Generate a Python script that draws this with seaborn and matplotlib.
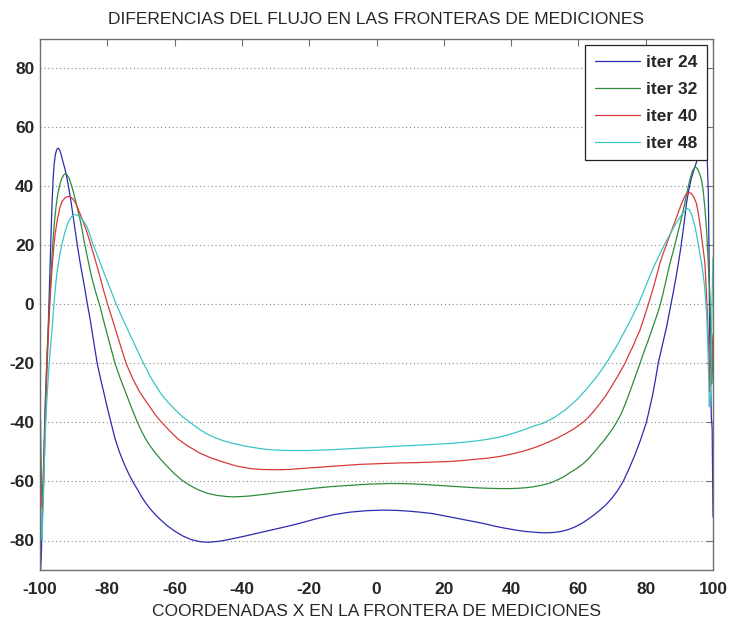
import numpy as np
import pandas as pd
import matplotlib
matplotlib.use("Agg")
import matplotlib.pyplot as plt
import seaborn as sns

# Flow difference along the measurement boundary, for several iterations
x_24 = [-100, -99.6, -99.2, -98.8, -98.4, -98.0, -97.6, -97.3, -97.0, -96.7, -96.4,
        -96.1, -95.8, -95.4, -95.0, -94.6, -94.2, -93.7, -93.2, -92.6, -92.1, -91.5,
        -90.8, -90.2, -89.6, -88.9, -88.2, -87.4, -86.6, -85.9, -85.1, -84.4, -83.7,
        -83.0, -82.0, -81.0, -80.0, -78.9, -77.7, -76.4, -75.0, -73.6, -72.3, -71.0,
        -69.8, -68.5, -67.3, -66.0, -64.8, -62.4, -60.0, -57.5, -55.0, -52.5, -50.0,
        -47.0, -44.5, -42.0, -39.5, -36.8, -34.0, -31.8, -28.0, -25.0, -21.0, -17.8,
        -13.0, -8.0, -3.0, 2.0, 6.0, 9.0, 13.0, 16.8, 20.0, 24.0, 28.0, 31.7, 35.0,
        38.0, 41.6, 44.0, 46.0, 48.0, 50.0, 52.5, 55.0, 57.0, 59.0, 61.0, 63.0, 65.0,
        66.4, 68.2, 70.0, 71.7, 73.3, 75.0, 76.8, 78.5, 80.2, 81.1, 82.0, 82.9, 83.7,
        85.0, 86.2, 87.1, 88.0, 88.9, 89.7, 90.4, 91.0, 91.6, 92.1, 92.8, 93.5, 94.3,
        95.1, 95.7, 96.3, 96.9, 97.5, 98.0, 98.3, 98.6, 98.8, 99.0, 99.25, 99.5,
        99.75, 100]
y_24 = [-95, -85, -65, -48, -32, -20, -10, 2, 14, 25, 35,
        42.5, 47.5, 51, 52.6, 53, 52.5, 50.8, 48.5, 46, 43.5, 39.8,
        35, 30.3, 25.5, 20, 15, 10, 4.8, 0, -5, -10, -15,
        -20, -25.2, -30, -35, -40, -45.5, -50, -54, -57.5, -60.3, -62.8,
        -65.2, -67.4, -69.2, -70.9, -72.3, -74.8, -76.8, -78.5, -79.7, -80.4, -80.6,
        -80.3, -79.8, -79.2, -78.6, -77.9, -77.2, -76.6, -75.6, -74.8, -73.6, -72.6,
        -71.3, -70.4, -69.9, -69.7, -69.8, -70.0, -70.4, -70.9, -71.6, -72.5, -73.4, -74.2, -75.1,
        -75.8, -76.5, -76.9, -77.1, -77.3, -77.4, -77.3, -76.9, -76.3, -75.4, -74.2, -72.7, -71.0,
        -69.7, -67.9, -65.6, -63.0, -60, -55.8, -51, -45.8, -40, -35.5, -31, -25.5, -20,
        -13.6, -7.6, -2.3, 3, 8.5, 13.9, 19, 24, 29.3, 34.2, 38.8, 42.5, 45.6,
        48.3, 52, 55.5, 57, 56, 52, 49, 38, 20, -8.7, -25, -38,
        -42, -72]

x_32 = [-100, -99.8, -99.6, -99.3, -99.0, -98.7, -98.4, -98.1, -97.8, -97.5, -97.2,
        -96.9, -96.5, -96.1, -95.7, -95.2, -94.7, -94.1, -93.5, -92.9, -92.5, -92.0,
        -91.4, -90.7, -90.0, -89.3, -88.6, -88.1, -87.5, -86.9, -86.1, -85.3, -84.5,
        -83.4, -82.2, -81.1, -80.0, -78.9, -77.7, -76.1, -74.5, -72.8, -71.1, -69.8,
        -68.5, -67.3, -65.8, -64.2, -62.5, -60.3, -57.9, -55.5, -53.0, -50.5, -47.5,
        -44.5, -42.6, -40.0, -37.6, -33.0, -27.7, -22.5, -17.8, -13.0, -7.9, -4.0,
        0.0, 3.5, 7.0, 10.5, 14.0, 18.0, 21.8, 25.5, 29.0, 33.0, 36.7, 39.5, 42.0,
        44.5, 46.6, 48.5, 50.0, 51.9, 53.5, 55.5, 57.5, 59.5, 61.5, 63.0, 64.0, 65.2,
        66.4, 67.7, 69.0, 70.2, 71.3, 72.6, 73.8, 75.0, 76.1, 77.2, 78.3, 79.5, 80.8,
        82.0, 83.2, 84.2, 85.0, 86.0, 87.2, 88.4, 89.5, 90.4, 91.2, 92.1, 93.1, 93.9,
        94.7, 95.4, 96.0, 96.6, 97.1, 97.6, 98.1, 98.6, 99.1, 99.35, 99.6, 99.8, 100]
y_32 = [-22, -45, -60, -68, -60, -47, -35, -24, -14, -7, 0,
        6.5, 15, 22.3, 28, 33.5, 37.5, 40.8, 42.8, 44, 44.4, 44,
        42.9, 40.6, 37.8, 34.6, 31.2, 28.8, 25.4, 21.5, 17, 12.7, 8.6,
        4, -0.5, -5.5, -10.2, -15, -20, -25.2, -30, -35, -39.8, -43,
        -45.8, -47.9, -50.2, -52.4, -54.5, -57.1, -59.5, -61.3, -62.8, -63.9, -64.7,
        -65.1, -65.2, -65.1, -64.9, -64.3, -63.5, -62.8, -62.2, -61.7, -61.3, -61,
        -60.8, -60.7, -60.7, -60.8, -61, -61.3, -61.6, -61.9, -62.1, -62.3, -62.4, -62.4, -62.3,
        -62.1, -61.8, -61.4, -61, -60.4, -59.6, -58.5, -57, -55.6, -53.9, -52.3, -51, -49.4,
        -47.7, -46, -44, -42.1, -40, -37.3, -34.1, -30.5, -27, -23.6, -20, -16, -12,
        -8, -4.1, -0.5, 3, 8, 13.9, 19, 24, 28.2, 32, 37.2, 42.2, 45.3,
        46.6, 46.1, 44.4, 42.2, 38.5, 32.5, 25.2, 14, 2.6, -12, -27, -22, -12]

x_40 = [-100, -99.8, -99.6, -99.2, -98.95, -98.7, -98.35, -98.0, -97.7, -97.4, -97.0,
        -96.7, -96.3, -95.9, -95.5, -94.8, -94.1, -93.4, -92.6, -91.8, -91.1, -90.3,
        -89.5, -88.8, -88.0, -87.1, -86.1, -85.3, -84.0, -82.6, -81.3, -79.9, -78.5,
        -77.2, -75.8, -74.4, -72.5, -70.5, -69.0, -67.3, -65.6, -63.8, -61.5, -58.9,
        -56.0, -52.5, -49.0, -45.0, -41.5, -37.6, -34.5, -31.5, -28.5, -25.7, -20.0,
        -15.0, -10.0, -5.0, 2.0, 7.0, 12.0, 17.0, 21.8, 25.5, 29.0, 33.0, 36.7, 40.5,
        44.0, 48.0, 51.6, 54.2, 56.5, 59.0, 61.5, 63.0, 64.5, 66.4, 68.2, 70.0, 72.0,
        73.8, 75.0, 76.2, 77.3, 78.3, 79.7, 81.0, 82.6, 84.2, 85.5, 86.7, 88.0, 89.2,
        90.1, 90.8, 91.5, 92.1, 92.8, 93.6, 94.4, 95.1, 95.7, 96.4, 97.0, 97.6, 98.0,
        98.4, 98.7, 98.9, 99.1, 99.3, 99.5, 100]
y_40 = [-33, -55, -68, -70, -62, -52, -38, -25, -15.5, -7.5, 1.5,
        7.5, 14, 19.5, 24, 29, 32.8, 35, 36.1, 36.6, 36.6, 35.9,
        34.6, 32.8, 30.5, 27.8, 24.7, 21.7, 16.8, 11.2, 5.6, 0, -5,
        -9.8, -15, -20, -25, -29.4, -32, -34.8, -37.6, -40, -42.8, -45.7,
        -48, -50.4, -52.1, -53.6, -54.8, -55.6, -55.9, -56, -56, -55.9, -55.4,
        -55, -54.6, -54.2, -53.9, -53.7, -53.6, -53.4, -53.2, -52.9, -52.5, -52.1, -51.5, -50.6,
        -49.6, -48.1, -46.4, -45, -43.6, -41.9, -39.8, -38.2, -36.3, -33.6, -30.8, -27.5, -23.7,
        -20, -17, -14.2, -11.2, -8.7, -3.8, 0.8, 7, 13.9, 18.3, 22, 26, 29.7,
        32.5, 34.6, 36.4, 37.6, 38, 37.6, 36.2, 34.2, 30.5, 25, 19.5, 13.9, 5,
        -5, -14, -20, -29.6, -26, -22, -10]

x_48 = [-100, -99.7, -99.4, -99.2, -99.0, -98.7, -98.3, -97.9, -97.5, -97.0, -96.5,
        -96.1, -95.8, -95.4, -95.0, -94.6, -94.1, -93.4, -92.6, -91.9, -91.3, -90.6,
        -89.8, -89.0, -88.0, -87.0, -86.1, -85.3, -84.6, -83.5, -82.2, -80.9, -79.1,
        -77.2, -75.2, -73.2, -71.3, -69.3, -67.3, -65.6, -64.0, -62.0, -60.0, -57.7,
        -55.4, -52.5, -50.5, -48.5, -45.5, -42.6, -39.5, -36.5, -33.5, -30.7, -26.0,
        -21.0, -17.8, -13.0, -8.0, -3.0, 2.0, 7.0, 12.0, 17.0, 21.8, 26.0, 30.0, 33.5,
        36.7, 40.0, 43.5, 46.5, 49.6, 52.6, 56.0, 59.5, 62.5, 65.9, 68.4, 71.5, 74.3,
        76.0, 77.8, 79.6, 81.3, 82.9, 84.5, 85.9, 87.2, 88.5, 89.8, 90.8, 91.7, 92.3,
        92.9, 93.5, 94.1, 94.8, 95.4, 96.0, 96.6, 97.1, 97.5, 98.1, 98.4, 98.6, 98.9,
        99.1, 99.3, 99.5, 99.7, 100]
y_48 = [-60, -75, -80, -73, -65, -53, -40, -31, -24, -16, -9.5,
        -3.5, 1, 6, 10.5, 13.5, 17, 20.8, 24.5, 27, 28.6, 29.8,
        30.5, 30.3, 29.5, 28.2, 26.5, 24.1, 21.5, 18.3, 14.4, 10.5, 5.2,
        -0.3, -5.4, -10.3, -15, -19.8, -24.3, -27.5, -30.3, -33.1, -35.5, -38,
        -40, -42.4, -43.8, -44.9, -46.2, -47.1, -47.9, -48.5, -49, -49.3, -49.5,
        -49.5, -49.4, -49.2, -48.9, -48.6, -48.3, -48, -47.7, -47.4, -47.1, -46.7, -46.2, -45.6,
        -44.9, -43.9, -42.6, -41.3, -40.2, -38.5, -35.8, -32.3, -28.6, -23.8, -19.7, -13.8, -7.9,
        -4.1, 0.1, 5.0, 9.9, 14.0, 17.8, 21.0, 23.8, 26.5, 28.9, 30.6, 31.9, 32.5,
        32.2, 30.9, 28.8, 25.6, 22, 18, 13.9, 10, 6, -3, -12, -20, -34.7,
        -33, -30, -15, 0, 16]

series_labels = ["iter 24", "iter 32", "iter 40", "iter 48"]
series_colors = ["#2b2bb0", "#2e8b3a", "#d83a3a", "#3cc4c4"]

frames = []
for lab, xs, ys in zip(series_labels, [x_24, x_32, x_40, x_48], [y_24, y_32, y_40, y_48]):
    frames.append(pd.DataFrame({"x": xs, "y": ys, "serie": lab}))
df = pd.concat(frames, ignore_index=True)

sns.set_theme(style="white")
plt.rcParams["font.family"] = ["Liberation Sans", "DejaVu Sans"]
plt.rcParams["axes.unicode_minus"] = False

fig = plt.figure(figsize=(7.33, 6.26), dpi=100)
ax = fig.add_axes([40 / 733, 1 - 570 / 626, 673 / 733, 531 / 626])

sns.lineplot(data=df, x="x", y="y", hue="serie", hue_order=series_labels,
             palette=dict(zip(series_labels, series_colors)),
             estimator=None, sort=False, linewidth=0.9, ax=ax)

ax.set_xlim(-100, 100)
ax.set_ylim(-90, 90)
ax.set_xticks(np.arange(-100, 101, 20))
ax.set_yticks(np.arange(-80, 81, 20))
ax.yaxis.grid(True, linestyle=(0, (1, 2.5)), color="#8a8a8a", linewidth=0.8)
ax.xaxis.grid(False)

for s in ax.spines.values():
    s.set_color("#707070")
    s.set_linewidth(1.0)
ax.tick_params(axis="both", direction="in", length=5, width=0.8, color="#707070",
               top=True, right=True, labelsize=12.5)
ax.tick_params(axis="x", pad=9)
ax.tick_params(axis="y", pad=4)
for t in ax.get_xticklabels() + ax.get_yticklabels():
    t.set_fontweight("bold")

ax.set_title("DIFERENCIAS DEL FLUJO EN LAS FRONTERAS DE MEDICIONES",
             fontsize=12.5, pad=11)
ax.set_xlabel("COORDENADAS X EN LA FRONTERA DE MEDICIONES", fontsize=12.5, labelpad=5)
ax.set_ylabel("")

leg = ax.legend(loc="upper right", fontsize=12.5, handlelength=2.6, handletextpad=0.35,
                borderaxespad=0.35, labelspacing=0.68, borderpad=0.55,
                fancybox=False, framealpha=1)
leg.get_frame().set_edgecolor("#222222")
leg.get_frame().set_linewidth(0.9)
for t in leg.get_texts():
    t.set_fontweight("bold")

fig.savefig("out.png", dpi=100)
